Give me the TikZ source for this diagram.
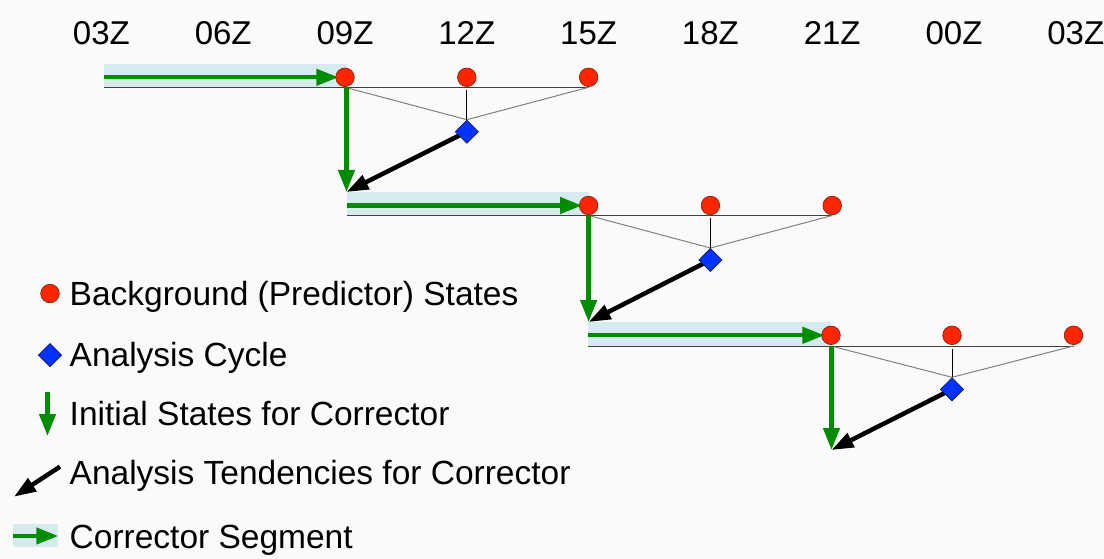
\documentclass[tikz,border=0pt]{standalone}
\usepackage{fontspec}
\setmainfont{Liberation Sans}
\usetikzlibrary{arrows.meta,shapes.geometric,backgrounds}
\definecolor{bgc}{RGB}{250,250,250}
\definecolor{redc}{RGB}{255,38,0}
\definecolor{redo}{RGB}{120,30,10}
\definecolor{bluec}{RGB}{0,51,255}
\definecolor{blueo}{RGB}{10,20,90}
\definecolor{greenc}{RGB}{0,140,0}
\definecolor{bandc}{RGB}{214,234,240}
\tikzset{
  circ/.style={circle,fill=redc,draw=redo,line width=0.6pt,minimum size=18.6pt,inner sep=0pt},
  diam/.style={diamond,fill=bluec,draw=blueo,line width=0.6pt,minimum size=23.4pt,inner sep=0pt},
  garrow/.style={draw=greenc,line width=4.3pt,-{Triangle[length=22pt,width=16pt]}},
  karrow/.style={draw=black,line width=4.5pt,-{Triangle[length=22pt,width=15pt]}},
  band/.style={fill=bandc},
  hline/.style={draw=black!75,line width=1pt},
  dline/.style={draw=black!50,line width=1pt},
  vline/.style={draw=black,line width=1pt},
  lbl/.style={anchor=base west,inner sep=0pt,font=\fontsize{33.5}{40}\selectfont},
  tlbl/.style={anchor=base,inner sep=0pt,font=\fontsize{33}{40}\selectfont},
}
\begin{document}
\begin{tikzpicture}[x=1pt,y=-1pt]
\useasboundingbox (0,0) rectangle (1104,559);
% time labels
\foreach \t/\i in {03Z/0,06Z/1,09Z/2,12Z/3,15Z/4,18Z/5,21Z/6,00Z/7,03Z/8}{
  \node[tlbl] (t\i) at (101.4+121.8*\i,44.3) {\t};
}
% row nodes
\node[circ] (c11) at (345.0,77.3) {};
\node[circ] (c12) at (466.8,77.3) {};
\node[circ] (c13) at (588.6,77.3) {};
\node[diam] (d1) at (466.8,131.7) {};
\node[circ] (c21) at (588.6,205.5) {};
\node[circ] (c22) at (710.4,205.5) {};
\node[circ] (c23) at (832.2,205.5) {};
\node[diam] (d2) at (710.4,260) {};
\node[circ] (c31) at (831.0,335.3) {};
\node[circ] (c32) at (952.0,335.3) {};
\node[circ] (c33) at (1073.5,335.3) {};
\node[diam] (d3) at (952.0,389.3) {};
% coordinates
\coordinate (s1) at (104,77.3);
\coordinate (l1) at (104,87.3);
\coordinate (t1) at (346.5,192);
\coordinate (s2) at (346.5,205.5);
\coordinate (l2) at (346.5,215.5);
\coordinate (t2) at (588.6,322);
\coordinate (s3) at (588,335.3);
\coordinate (l3) at (588,346);
\coordinate (t3) at (831.5,450);
% legend
\node[circ] (lc) at (50,293.5) {};
\node[diam] (ld) at (50,355) {};
\coordinate (lga) at (47.5,392);
\coordinate (lgb) at (47.5,436);
\coordinate (lka) at (60,466.7);
\coordinate (lkb) at (14,496.7);
\coordinate (lsa) at (13.3,536);
\coordinate (lsb) at (58.3,536);
\node[lbl] (L1) at (69.5,305.5) {Background (Predictor) States};
\node[lbl] (L2) at (69.5,366) {Analysis Cycle};
\node[lbl] (L3) at (69.5,425) {Initial States for Corrector};
\node[lbl] (L4) at (69.5,484.5) {Analysis Tendencies for Corrector};
\node[lbl] (L5) at (69.5,548.3) {Corrector Segment};
\begin{scope}[on background layer]
\fill[bgc] (0,0) rectangle (1104,559);
% bands
\fill[band] (104,64) rectangle (346.5,87.3);
\fill[band] (346.5,192) rectangle (588.6,215.5);
\fill[band] (588,322) rectangle (831,346);
\fill[band] (13.3,524) rectangle (58.3,546.7);
% thin lines
\draw[hline] (l1) -- (l1 -| c13);
\draw[dline] (l1 -| c11) -- (d1.north);
\draw[dline] (l1 -| c13) -- (d1.north);
\draw[vline] ([yshift=-3pt]l1 -| c12) -- (d1.north);
\draw[hline] (l2) -- (l2 -| c23);
\draw[dline] (l2 -| c21) -- (d2.north);
\draw[dline] (l2 -| c23) -- (d2.north);
\draw[vline] ([yshift=-3pt]l2 -| c22) -- (d2.north);
\draw[hline] (l3) -- (l3 -| c33);
\draw[dline] (l3 -| c31) -- (d3.north);
\draw[dline] (l3 -| c33) -- (d3.north);
\draw[vline] ([yshift=-3pt]l3 -| c32) -- (d3.north);
% green segment arrows
\draw[garrow,shorten >=-3pt] (s1) -- (c11);
\draw[garrow,shorten >=-3pt] (s2) -- (c21);
\draw[garrow,shorten >=-3pt] (s3) -- (c31);
% green initial-state arrows
\draw[garrow] (l1 -| t1) -- (t1);
\draw[garrow] (l2 -| t2) -- (t2);
\draw[garrow] (l3 -| t3) -- (t3);
% black tendency arrows
\draw[karrow] (d1.center) -- (t1);
\draw[karrow] (d2.center) -- (t2);
\draw[karrow] (d3.center) -- (t3);
% legend arrows
\draw[garrow] (lga) -- (lgb);
\draw[karrow] (lka) -- (lkb);
\draw[garrow] (lsa) -- (lsb);
\end{scope}
\end{tikzpicture}
\end{document}
